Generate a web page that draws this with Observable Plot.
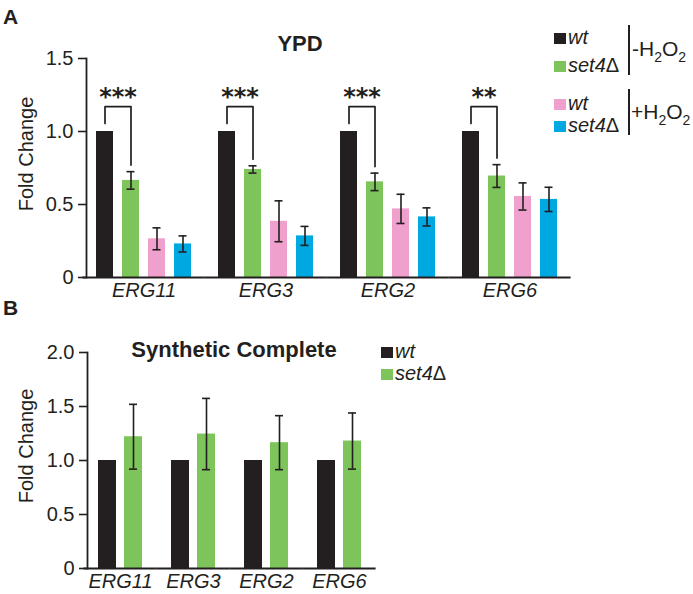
<!DOCTYPE html>
<html><head><meta charset="utf-8">
<script src="https://cdn.jsdelivr.net/npm/d3@7"></script>
<script src="https://cdn.jsdelivr.net/npm/@observablehq/plot@0.6"></script>
<style>
body{margin:0;background:#fff;}
#wrap{position:relative;width:693px;height:594px;font-family:"Liberation Sans",Arial,sans-serif;color:#231f20;overflow:hidden;}
.abs{position:absolute;line-height:1;white-space:nowrap;}
#pa{position:absolute;left:0;top:0}
#pb{position:absolute;left:0;top:300px}
svg [aria-label="fx-axis tick label"]{font-style:italic}
.sq{position:absolute;width:12px;height:11px}
.lt{font-size:20px;font-style:italic}
.lt span{font-style:normal}
.vl{position:absolute;width:1.6px;background:#231f20}
.h2{font-size:21px}
.h2 sub{font-size:14px;vertical-align:-6px}
.ttl{font-weight:bold;font-size:22px;transform:translateX(-50%)}
.pl{font-weight:bold;font-size:21px}
.ylab{font-size:20px;transform:translate(-50%,-50%) rotate(-90deg)}
</style></head><body>
<div id="wrap">
  <div id="pa"></div>
  <div id="pb"></div>
  <div class="abs pl" style="left:3px;top:6px">A</div>
  <div class="abs pl" style="left:3px;top:297px">B</div>
  <div class="abs ttl" style="left:300px;top:33px">YPD</div>
  <div class="abs ttl" style="left:234px;top:339px">Synthetic Complete</div>
  <div class="abs ylab" style="left:26px;top:154px">Fold Change</div>
  <div class="abs ylab" style="left:26px;top:446px">Fold Change</div>
  <div id="legA"></div>
  <div id="legB"></div>
</div>
<script>
// ---------- data ----------
const genes = ["ERG11", "ERG3", "ERG2", "ERG6"];
const seriesA = ["wt −H2O2", "set4Δ −H2O2", "wt +H2O2", "set4Δ +H2O2"];
const colorsA = ["#231f20", "#7dc45a", "#f0a0cd", "#00a8e1"];
const wtMinus = [1, 1, 1, 1];
const set4Minus = [0.665, 0.74, 0.655, 0.695];
const wtPlus = [0.265, 0.385, 0.47, 0.555];
const set4Plus = [0.23, 0.285, 0.415, 0.535];
const wtMinusErr = [0, 0, 0, 0];
const set4MinusErr = [0.06, 0.025, 0.06, 0.078];
const wtPlusErr = [0.075, 0.14, 0.1, 0.093];
const set4PlusErr = [0.055, 0.065, 0.062, 0.083];
const stars = ["***", "***", "***", "**"];
const yTicksA = [0, 0.5, 1, 1.5];

const seriesB = ["wt", "set4Δ"];
const colorsB = ["#231f20", "#7dc45a"];
const wtB = [1, 1, 1, 1];
const set4B = [1.22, 1.245, 1.165, 1.18];
const wtBErr = [0, 0, 0, 0];
const set4BErr = [0.30, 0.33, 0.25, 0.26];
const yTicksB = [0, 0.5, 1, 1.5, 2];

// bracket levels (data units)
const bracketTop = 1.17, bracketLeftEnd = 1.055, bracketGap = 0.045;

// ---------- tables ----------
const valsA = [wtMinus, set4Minus, wtPlus, set4Plus];
const errsA = [wtMinusErr, set4MinusErr, wtPlusErr, set4PlusErr];
const rowsA = genes.flatMap((g, i) => seriesA.map((s, k) => ({gene: g, series: s, value: valsA[k][i], err: errsA[k][i]})));
const errRowsA = rowsA.filter(d => d.err > 0);
const bracketRows = genes.flatMap((g, i) => [
  {gene: g, series: seriesA[0], y: bracketLeftEnd},
  {gene: g, series: seriesA[0], y: bracketTop},
  {gene: g, series: seriesA[1], y: bracketTop},
  {gene: g, series: seriesA[1], y: set4Minus[i] + set4MinusErr[i] + bracketGap}
]);
const starRows = genes.map((g, i) => ({gene: g, series: seriesA[0], y: bracketTop, text: stars[i]}));

const valsB = [wtB, set4B];
const errsB = [wtBErr, set4BErr];
const rowsB = genes.flatMap((g, i) => seriesB.map((s, k) => ({gene: g, series: s, value: valsB[k][i], err: errsB[k][i]})));
const errRowsB = rowsB.filter(d => d.err > 0);

const ink = "#231f20";
const fmt = d => d === 0 ? "0" : d.toFixed(1);
const style = {fontFamily: "Liberation Sans, Arial, sans-serif", fontSize: "20px", color: ink, background: "transparent", overflow: "visible"};

function panel({rows, errRows, series, colors, yMax, yTicks, height, marginTop, marginBottom, marginRight, fxPad, xPadInner, xPadOuter, capInset, extra = []}) {
  return Plot.plot({
    width: 693, height, marginLeft: 86, marginRight, marginTop, marginBottom,
    style,
    facet: {marginTop: 0, marginBottom: 0, marginLeft: 0, marginRight: 0},
    fx: {domain: genes, paddingInner: fxPad, paddingOuter: 0, label: null},
    x: {domain: series, paddingInner: xPadInner, paddingOuter: xPadOuter, axis: null},
    y: {domain: [0, yMax]},
    color: {domain: series, range: colors},
    marks: [
      Plot.barY(rows, {fx: "gene", x: "series", y: "value", fill: "series"}),
      Plot.ruleX(errRows, {fx: "gene", x: "series", y1: d => d.value - d.err, y2: d => d.value + d.err, stroke: ink, strokeWidth: 1.6}),
      Plot.tickY(errRows, {fx: "gene", x: "series", y: d => d.value - d.err, inset: capInset, stroke: ink, strokeWidth: 1.6}),
      Plot.tickY(errRows, {fx: "gene", x: "series", y: d => d.value + d.err, inset: capInset, stroke: ink, strokeWidth: 1.6}),
      Plot.ruleY([0], {insetLeft: -3.6, insetRight: -3.6, stroke: ink, strokeWidth: 1.8}),
      Plot.frame({anchor: "left", facetAnchor: "left", stroke: ink, strokeWidth: 1.8}),
      Plot.axisY({ticks: yTicks, tickSize: 8, tickPadding: 5, tickFormat: fmt, label: null, stroke: ink, strokeWidth: 1.6, fill: ink}),
      Plot.axisFx({anchor: "bottom", tickSize: 0, tickPadding: 5, label: null, fill: ink}),
      ...extra
    ]
  });
}

const plotA = panel({
  rows: rowsA, errRows: errRowsA, series: seriesA, colors: colorsA, yMax: 1.5, yTicks: yTicksA,
  height: 300, marginTop: 58, marginBottom: 23, marginRight: 126,
  fxPad: 7 / 122, xPadInner: 9 / 26, xPadOuter: 10 / 26, capInset: 4.5,
  extra: [
    Plot.line(bracketRows, {fx: "gene", x: "series", y: "y", z: "gene", stroke: ink, strokeWidth: 1.7}),
    Plot.text(starRows, {fx: "gene", x: "series", y: "y", text: "text", dx: 13, dy: -2, lineAnchor: "bottom", fontSize: 24, fontWeight: "bold", fontFamily: "DejaVu Sans", fill: ink})
  ]
});
document.getElementById("pa").appendChild(plotA);

const plotB = panel({
  rows: rowsB, errRows: errRowsB, series: seriesB, colors: colorsB, yMax: 2, yTicks: yTicksB,
  height: 294, marginTop: 52, marginBottom: 26, marginRight: 321,
  fxPad: 7 / 73, xPadInner: 8 / 26, xPadOuter: 11 / 26, capInset: 5
});
document.getElementById("pb").appendChild(plotB);

// ---------- legends (HTML) ----------
function sq(x, y, c) { return `<div class="sq" style="left:${x}px;top:${y}px;background:${c}"></div>`; }
function lab(x, base, t) { return `<div class="abs lt" style="left:${x}px;top:${base - 17}px">${t}</div>`; }
const set4Txt = "set4<span>Δ</span>";
const h2o2 = s => `${s}H<sub>2</sub>O<sub>2</sub>`;
document.getElementById("legA").innerHTML =
  sq(554, 33, colorsA[0]) + lab(568, 44, "wt") +
  sq(554, 61, colorsA[1]) + lab(568, 72, set4Txt) +
  `<div class="vl" style="left:628px;top:25px;height:50px"></div>` +
  `<div class="abs h2" style="left:632px;top:${56 - 18}px">${h2o2("-")}</div>` +
  sq(554, 99, colorsA[2]) + lab(568, 110, "wt") +
  sq(554, 121, colorsA[3]) + lab(568, 132, set4Txt) +
  `<div class="vl" style="left:628px;top:89px;height:46px"></div>` +
  `<div class="abs h2" style="left:631px;top:${119 - 18}px">${h2o2("+")}</div>`;
document.getElementById("legB").innerHTML =
  sq(381, 347, colorsB[0]) + lab(395, 358, "wt") +
  sq(381, 369, colorsB[1]) + lab(395, 380, set4Txt);
</script>
</body></html>
